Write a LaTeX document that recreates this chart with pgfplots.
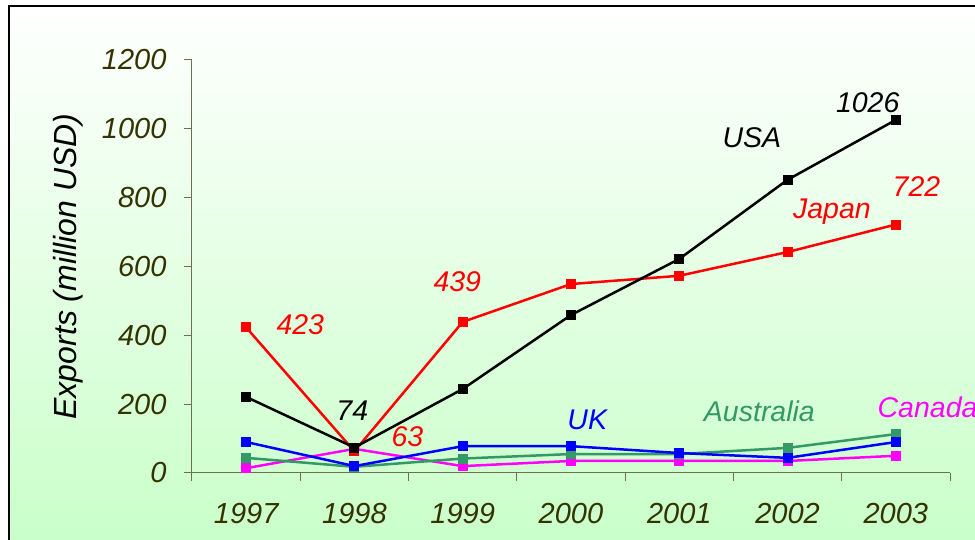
\documentclass[border=0pt]{standalone}
\usepackage{fontspec}
\setmainfont{Liberation Sans}
\usepackage{pgfplots}
\pgfplotsset{compat=1.18}

\definecolor{ticktext}{RGB}{51,51,0}
\definecolor{axcol}{RGB}{110,110,80}
\definecolor{bgbot}{RGB}{200,255,200}
\definecolor{ausgreen}{RGB}{51,153,102}
\definecolor{canmag}{RGB}{255,0,255}
\newcommand{\lf}{\fontsize{28.5}{32}\selectfont\itshape}
\newcommand{\tf}{\fontsize{29}{32}\selectfont\itshape}
\newcommand{\yf}{\fontsize{32}{36}\selectfont\itshape}

\begin{document}
\begin{tikzpicture}
  \path[use as bounding box] (-192pt,-67pt) rectangle (783pt,473pt);
  \shade[top color=white, bottom color=bgbot] (-183pt,-80pt) rectangle (800pt,467pt);
  \draw[black, line width=1.5pt] (-183pt,-80pt) -- (-183pt,467pt) -- (800pt,467pt);

  \begin{axis}[
    at={(0,0)}, anchor=south west,
    scale only axis, width=758pt, height=413pt,
    xmin=-0.5, xmax=6.5, ymin=0, ymax=1200,
    axis x line*=bottom, axis y line*=left,
    axis line style={draw=axcol, line width=1pt, -},
    xtick={0,...,6},
    xticklabels={1997,1998,1999,2000,2001,2002,2003},
    minor xtick={-0.5,0.5,...,6.5},
    ytick={0,200,...,1200},
    tick align=outside,
    major tick length=8pt, minor tick length=8pt,
    tick style={draw=axcol, line width=1pt},
    major x tick style={draw=none},
    /pgf/number format/assume math mode=true,
    /pgf/number format/1000 sep={},
    ticklabel style={font=\tf, text=ticktext},
    yticklabel style={anchor=east, xshift=-14pt},
    xticklabel style={yshift=-19pt},
    ylabel={Exports (million USD)},
    ylabel style={font=\yf, text=black, at={(axis description cs:-0.1636,0.5)}, anchor=center},
    clip=false,
    series/.style={color=#1, line width=2.5pt, mark=square*, mark size=4.5pt,
      mark options={fill=#1, line width=1pt}},
  ]
    % Canada
    \addplot[series=canmag] coordinates {
      (0,14) (1,70) (2,20) (3,35) (4,35) (5,35) (6,50)
    };
    % Australia
    \addplot[series=ausgreen] coordinates {
      (0,44) (1,18) (2,42) (3,55) (4,55) (5,73) (6,113)
    };
    % UK
    \addplot[series=blue] coordinates {
      (0,90) (1,20) (2,78) (3,78) (4,58) (5,44) (6,90)
    };
    % Japan
    \addplot[series=red] coordinates {
      (0,423) (1,63) (2,439) (3,549) (4,573) (5,642) (6,722)
    };
    % USA
    \addplot[series=black] coordinates {
      (0,221) (1,74) (2,244) (3,459) (4,622) (5,852) (6,1026)
    };

    \node[font=\lf, text=red] at (axis cs:0.50,430) {423};
    \node[font=\lf, text=black] at (axis cs:0.98,180) {74};
    \node[font=\lf, text=red] at (axis cs:1.49,105) {63};
    \node[font=\lf, text=red] at (axis cs:1.95,555) {439};
    \node[font=\lf, text=blue] at (axis cs:3.15,154) {UK};
    \node[font=\lf, text=ausgreen] at (axis cs:4.74,180) {Australia};
    \node[font=\lf, text=canmag, anchor=west, inner sep=0pt] at (axis cs:5.83,192) {Canada};
    \node[font=\lf, text=black] at (axis cs:4.67,974) {USA};
    \node[font=\lf, text=black] at (axis cs:5.74,1076) {1026};
    \node[font=\lf, text=red] at (axis cs:5.41,759) {Japan};
    \node[font=\lf, text=red] at (axis cs:6.19,831) {722};
  \end{axis}
\end{tikzpicture}
\end{document}
